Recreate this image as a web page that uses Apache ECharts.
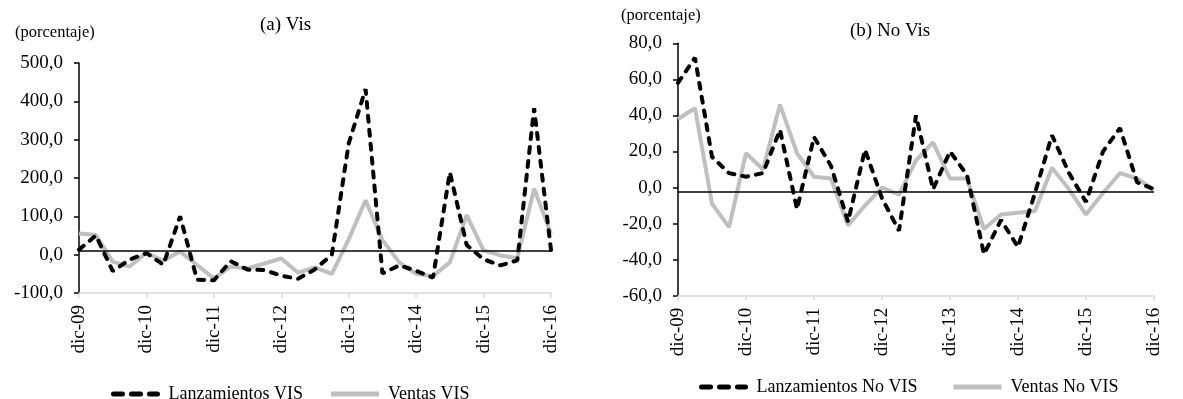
<!DOCTYPE html>
<html>
<head>
<meta charset="utf-8">
<script src="https://cdn.jsdelivr.net/npm/echarts@6/dist/echarts.min.js"></script>
<style>
html,body{margin:0;padding:0;background:#fff;}
#c{width:1183px;height:399px;}
</style>
</head>
<body>
<div id="c"></div>
<script>
const quarters = ['dic-09','mar-10','jun-10','sep-10','dic-10','mar-11','jun-11','sep-11','dic-11','mar-12','jun-12','sep-12','dic-12','mar-13','jun-13','sep-13','dic-13','mar-14','jun-14','sep-14','dic-14','mar-15','jun-15','sep-15','dic-15','mar-16','jun-16','sep-16','dic-16'];
const lanzVIS  = [13,50,-43,-13,4,-26,100,-65,-67,-17,-39,-40,-55,-63,-38,0,290,432,-49,-28,-42,-60,215,25,-12,-28,-15,382,12];
const ventVIS  = [55,51,-18,-31,5,-16,8,-27,-62,-31,-36,-23,-10,-47,-33,-50,40,142,38,-20,-50,-56,-20,103,11,-2,-9,172,55];
const lanzNoVIS = [58,72,17,8,6,8,32,-12,28,12,-19,21,-6,-24,40,-1,20,7,-37,-18,-33,-3,29,8,-8,20,33,3,-1];
const ventNoVIS = [38,44,-9,-22,19,10,46,19,6,5,-21,-10,0,-4,15,25,5,5,-23,-15,-14,-13,11,-1,-15,-3,8,5,-1];
const refLineVIS = 10;
const refLineNoVIS = -2.5;
const titles = ['(a) Vis', '(b) No Vis'];
const unitLabel = '(porcentaje)';
const legendVIS = ['Lanzamientos VIS', 'Ventas VIS'];
const legendNoVIS = ['Lanzamientos No VIS', 'Ventas No VIS'];

const FONT = "'Liberation Serif','Times New Roman',serif";
const fmt = v => v.toFixed(1).replace('.', ',');
const showDic = (i) => i % 4 === 0;
const DASH_ICON = 'path://M2,0h9a2,2 0 0 1 0,5h-9a2,2 0 0 1 0,-5z M20,0h9a2,2 0 0 1 0,5h-9a2,2 0 0 1 0,-5z M38,0h8a2,2 0 0 1 0,5h-8a2,2 0 0 1 0,-5z';
const LINE_ICON = 'path://M0,0h48v5h-48z';

function xAxis(gi){
  return {
    type:'category', gridIndex:gi, data:quarters, boundaryGap:false,
    axisLine:{onZero:false, lineStyle:{color:'#d9d9d9', width:1.5}},
    axisTick:{interval:(i)=>showDic(i), length:5, lineStyle:{color:'#d9d9d9', width:1.5}},
    axisLabel:{interval:(i)=>showDic(i), rotate:90, margin:12, color:'#000', fontFamily:FONT, fontSize:19},
    splitLine:{show:false}
  };
}
function yAxis(gi,min,max,interval){
  return {
    type:'value', gridIndex:gi, min:min, max:max, interval:interval,
    axisLine:{show:true, lineStyle:{color:'#000', width:1.5}},
    axisTick:{show:true, length:5, lineStyle:{color:'#000', width:1.5}},
    axisLabel:{formatter:fmt, margin:16, color:'#000', fontFamily:FONT, fontSize:19},
    splitLine:{show:false}
  };
}
const dashStyle = {color:'#000', width:4, type:[6,8], cap:'round'};
const grayStyle = {color:'#bfbfbf', width:4};
function refLine(v){
  return {silent:true, symbol:'none', label:{show:false}, lineStyle:{color:'#000', width:1.5, type:'solid'}, data:[{yAxis:v}]};
}
function legend(names, left, top, gap){
  return {
    data:[{name:names[0], icon:DASH_ICON}, {name:names[1], icon:LINE_ICON}],
    left:left, top:top, itemWidth:50, itemHeight:5, itemGap:gap,
    textStyle:{fontFamily:FONT, fontSize:18, color:'#000', padding:[0,0,0,3]}
  };
}

const chart = echarts.init(document.getElementById('c'), null, {renderer:'canvas'});
chart.setOption({
  animation:false,
  backgroundColor:'#fff',
  grid:[
    {left:79, top:63, width:472, height:230},
    {left:678, top:43.3, width:476, height:252.4}
  ],
  xAxis:[xAxis(0), xAxis(1)],
  yAxis:[yAxis(0,-100,500,100), yAxis(1,-60,80,20)],
  legend:[legend(legendVIS, 106, 380, 28), legend(legendNoVIS, 694, 373, 36)],
  graphic:[
    {type:'text', left:15, top:24, style:{text:unitLabel, fontFamily:FONT, fontSize:16.5, fill:'#000'}},
    {type:'text', left:260, top:16, style:{text:titles[0], fontFamily:FONT, fontSize:19, fill:'#000'}},
    {type:'text', left:621, top:7, style:{text:unitLabel, fontFamily:FONT, fontSize:16.5, fill:'#000'}},
    {type:'text', left:850, top:22, style:{text:titles[1], fontFamily:FONT, fontSize:19, fill:'#000'}}
  ],
  series:[
    {name:legendVIS[0], type:'line', xAxisIndex:0, yAxisIndex:0, data:lanzVIS, symbol:'none', lineStyle:dashStyle, itemStyle:{color:'#000'}, z:3, markLine:refLine(refLineVIS)},
    {name:legendVIS[1], type:'line', xAxisIndex:0, yAxisIndex:0, data:ventVIS, symbol:'none', lineStyle:grayStyle, itemStyle:{color:'#bfbfbf'}, z:2},
    {name:legendNoVIS[0], type:'line', xAxisIndex:1, yAxisIndex:1, data:lanzNoVIS, symbol:'none', lineStyle:dashStyle, itemStyle:{color:'#000'}, z:3, markLine:refLine(refLineNoVIS)},
    {name:legendNoVIS[1], type:'line', xAxisIndex:1, yAxisIndex:1, data:ventNoVIS, symbol:'none', lineStyle:grayStyle, itemStyle:{color:'#bfbfbf'}, z:2}
  ]
});
</script>
</body>
</html>
